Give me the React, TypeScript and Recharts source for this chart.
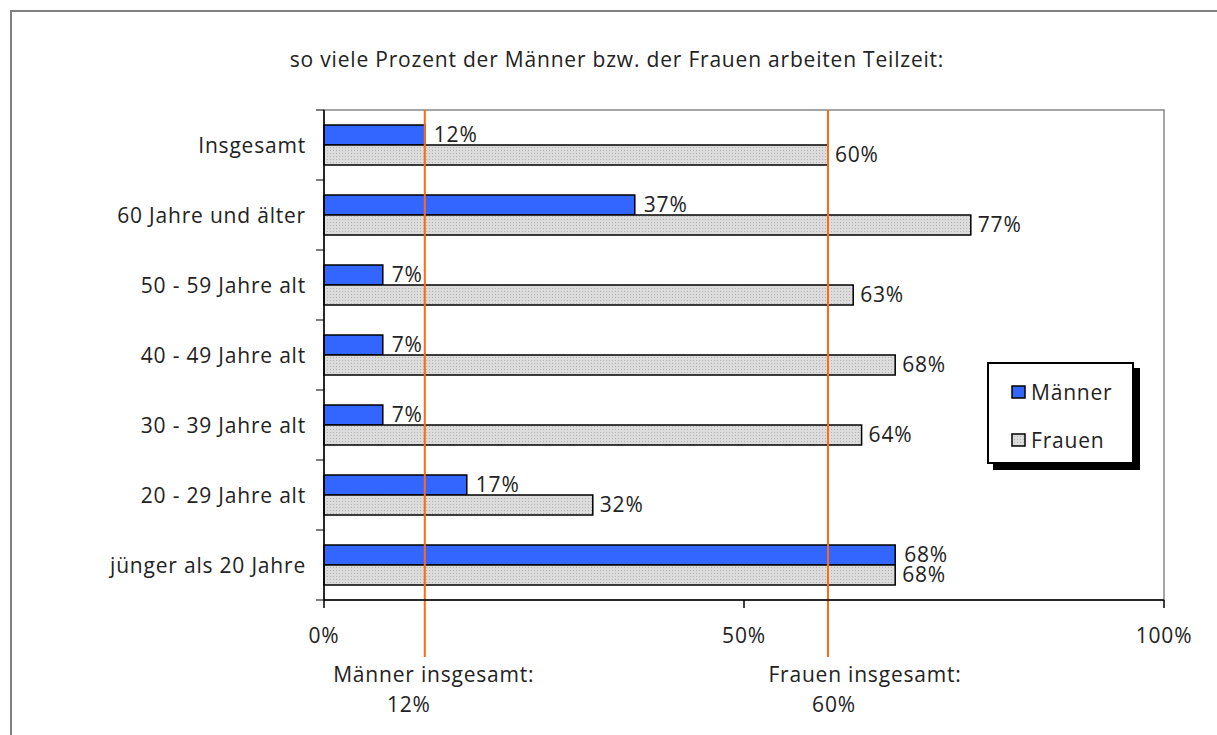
import React from 'react';
import { BarChart, Bar, XAxis, YAxis, LabelList, ReferenceLine, ReferenceArea } from 'recharts';

const categories = [
  'Insgesamt',
  '60 Jahre und älter',
  '50 - 59 Jahre alt',
  '40 - 49 Jahre alt',
  '30 - 39 Jahre alt',
  '20 - 29 Jahre alt',
  'jünger als 20 Jahre',
];
const maenner = [12, 37, 7, 7, 7, 17, 68];
const frauen = [60, 77, 63, 68, 64, 32, 68];
const xTicks = [0, 50, 100];
const totalMaenner = 12;
const totalFrauen = 60;

const FONT = '"Open Sans", "Noto Sans", sans-serif';
const FS = 21;
const LS = 0.8;
const BLUE = '#3366ff';
const ORANGE = '#ff6a13';
const TXT = '#222';
const TICK_GAP = 18;

const chartData = categories.map((name, i) => ({
  name,
  Männer: maenner[i],
  Frauen: frauen[i],
}));

const pct = (v: number) => `${v}%`;

// category label plus Excel-style tick marks on the band boundaries
const CategoryTick = (props: any) => {
  const { x, y, payload, index } = props;
  const half = payload.offset || 0;
  const axisX = x + TICK_GAP;
  const last = index === categories.length - 1;
  return (
    <g>
      <text x={x} y={y} dy="0.36em" textAnchor="end" fontFamily={FONT} fontSize={FS} letterSpacing={LS} fill={TXT}>
        {payload.value}
      </text>
      <line x1={axisX - 8} y1={y - half} x2={axisX} y2={y - half} stroke="#000" strokeWidth={1} />
      {last && <line x1={axisX - 8} y1={y + half} x2={axisX} y2={y + half} stroke="#000" strokeWidth={1} />}
    </g>
  );
};

// vertical total line, drawn a bit past the axis, with its caption underneath
const totalLine = (line1: string, line2: string, dx1: number, dx2: number) => (props: any) => {
  const { x1, y1, y2 } = props;
  const top = Math.min(y1, y2);
  const bottom = Math.max(y1, y2);
  return (
    <g>
      <line x1={x1} y1={top} x2={x1} y2={bottom + 57} stroke={ORANGE} strokeWidth={2} />
      <text x={x1 + dx1} y={bottom + 82} textAnchor="middle" fontFamily={FONT} fontSize={FS} letterSpacing={LS} fill={TXT}>
        {line1}
      </text>
      <text x={x1 + dx2} y={bottom + 112} textAnchor="middle" fontFamily={FONT} fontSize={FS} letterSpacing={LS} fill={TXT}>
        {line2}
      </text>
    </g>
  );
};

const LegendBox = () => (
  <div
    style={{
      position: 'absolute',
      left: 987,
      top: 362,
      width: 147,
      height: 102,
      border: '2px solid #000',
      background: '#fff',
      boxShadow: '6px 6px 0 #000',
      fontFamily: FONT,
      fontSize: FS,
      letterSpacing: LS,
      color: TXT,
      boxSizing: 'border-box',
      paddingLeft: 22,
      paddingTop: 14,
    }}
  >
    <div style={{ display: 'flex', alignItems: 'center', height: 28 }}>
      <svg width={17} height={14} style={{ marginRight: 3 }}>
        <rect x={1} y={1} width={13} height={12} fill={BLUE} stroke="#000" strokeWidth={1.5} />
      </svg>
      Männer
    </div>
    <div style={{ display: 'flex', alignItems: 'center', height: 28, marginTop: 20 }}>
      <svg width={17} height={14} style={{ marginRight: 3 }}>
        <rect x={1} y={1} width={13} height={12} fill="url(#dots)" stroke="#000" strokeWidth={1.5} />
      </svg>
      Frauen
    </div>
  </div>
);

export default function App() {
  const tickStyle = { fill: TXT, fontFamily: FONT, fontSize: FS, letterSpacing: LS };
  return (
    <div style={{ position: 'absolute', left: 0, top: 0, width: 1217, height: 735, overflow: 'hidden', background: '#fff' }}>
      <svg width={0} height={0} style={{ position: 'absolute' }}>
        <defs>
          <pattern id="dots" width={3} height={3} patternUnits="userSpaceOnUse">
            <rect width={3} height={3} fill="#dcdcdc" />
            <rect width={1} height={1} fill="#b4b4b4" />
          </pattern>
        </defs>
      </svg>
      <div
        style={{
          position: 'absolute',
          left: 10,
          top: 10,
          width: 1260,
          height: 800,
          border: '2px solid #808080',
        }}
      />
      <div
        style={{
          position: 'absolute',
          left: 0,
          width: 1234,
          top: 45,
          textAlign: 'center',
          fontFamily: FONT,
          fontSize: FS,
          letterSpacing: LS,
          color: TXT,
        }}
      >
        so viele Prozent der Männer bzw. der Frauen arbeiten Teilzeit:
      </div>
      <div style={{ position: 'absolute', left: 0, top: 0 }}>
        <BarChart
          width={1217}
          height={735}
          data={chartData}
          layout="vertical"
          margin={{ top: 110, right: 53, left: 0, bottom: 75 }}
          barCategoryGap={15}
          barGap={0}
        >
          <YAxis
            type="category"
            dataKey="name"
            width={324}
            tickLine={false}
            tickSize={0}
            tickMargin={TICK_GAP}
            stroke="#000"
            strokeWidth={1.5}
            tick={<CategoryTick />}
          />
          <XAxis
            type="number"
            domain={[0, 100]}
            ticks={xTicks}
            tickFormatter={pct}
            tickSize={8}
            tickMargin={20}
            height={60}
            stroke="#000"
            strokeWidth={1.5}
            tick={tickStyle}
          />
          <ReferenceArea x1={0} x2={100} fill="none" stroke="#888" strokeWidth={1.5} />
          <Bar dataKey="Männer" fill={BLUE} stroke="#000" strokeWidth={1.5} isAnimationActive={false}>
            <LabelList dataKey="Männer" position="right" offset={9} formatter={pct} fill={TXT} fontFamily={FONT} fontSize={FS} letterSpacing={LS} />
          </Bar>
          <Bar dataKey="Frauen" fill="url(#dots)" stroke="#000" strokeWidth={1.5} isAnimationActive={false}>
            <LabelList dataKey="Frauen" position="right" offset={7} formatter={pct} fill={TXT} fontFamily={FONT} fontSize={FS} letterSpacing={LS} />
          </Bar>
          <ReferenceLine
            x={totalMaenner}
            shape={totalLine('Männer insgesamt:', pct(totalMaenner), 9, -16)}
          />
          <ReferenceLine
            x={totalFrauen}
            shape={totalLine('Frauen insgesamt:', pct(totalFrauen), 37, 6)}
          />
        </BarChart>
      </div>
      <LegendBox />
    </div>
  );
}
